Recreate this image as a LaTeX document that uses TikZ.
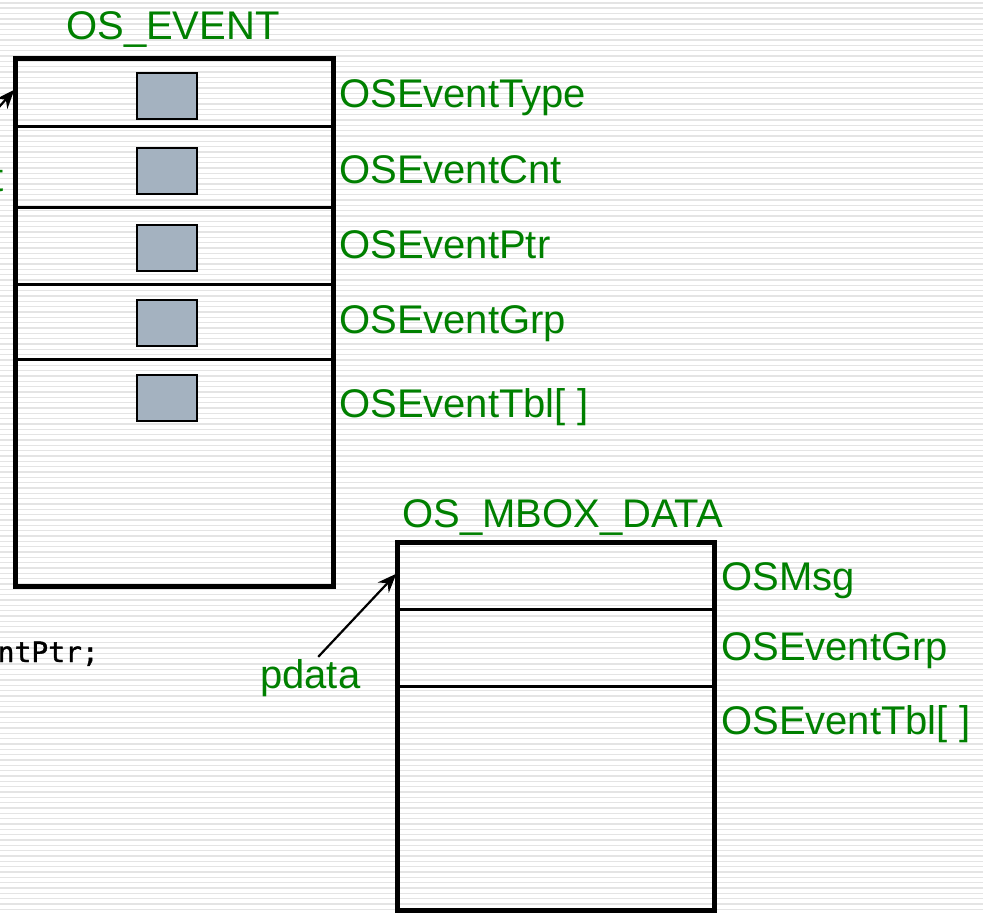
\documentclass[tikz,border=0pt]{standalone}
\usepackage{fontspec}
\setmainfont{Liberation Sans}
\newfontfamily\codefont[FakeBold=1.2]{DejaVu Sans Mono}
\usetikzlibrary{arrows.meta}
\definecolor{labelgreen}{RGB}{0,128,0}
\definecolor{slotgray}{RGB}{164,178,192}
\definecolor{stripe}{RGB}{228,228,228}
\tikzset{
  structbox/.style={draw=black, line width=5pt, inner sep=0pt, outer sep=0pt},
  divider/.style={draw=black, line width=3pt},
  slot/.style={draw=black, line width=2pt, fill=slotgray, inner sep=0pt,
    minimum width=60pt, minimum height=46pt},
  lbl/.style={text=labelgreen, inner sep=0pt, font=\fontsize{40}{48}\selectfont},
  code/.style={text=black, inner sep=0pt, font=\codefont\fontsize{28}{33}\selectfont},
  ptr/.style={draw=black, line width=2.2pt, -{Stealth[length=19pt,width=15pt]}}
}
\begin{document}
\begin{tikzpicture}[x=1pt,y=-1pt]
\useasboundingbox (0,0) rectangle (983,913);
% striped page background
\fill[white] (0,0) rectangle (983,913);
\foreach \i in {0,...,171}
  \draw[stripe, line width=1.6pt] (0,{2.7+5.333*\i}) -- (983,{2.7+5.333*\i});

% ---- OS_EVENT structure ----
\node[lbl, anchor=base west] (evtitle) at (66,39) {OS\_EVENT};
\node[structbox, minimum width=318pt, minimum height=528pt] (ev) at (174,322) {};
\foreach \y in {126,207,284,359}
  \draw[divider] (ev.west |- 0,\y) -- (ev.east |- 0,\y);
\foreach \y/\n in {96/s1,171/s2,248/s3,323/s4,398/s5}
  \node[slot] (\n) at (167,\y) {};
\node[lbl, anchor=base west] (ftype) at (339,107) {OSEventType};
\node[lbl, anchor=base west] (fcnt)  at (339,183) {OSEventCnt};
\node[lbl, anchor=base west] (fptr)  at (339,258) {OSEventPtr};
\node[lbl, anchor=base west] (fgrp)  at (339,333) {OSEventGrp};
\node[lbl, anchor=base west] (ftbl)  at (339,417) {OSEventTbl[ ]};

% pointer into OS_EVENT
\node[lbl, anchor=base east] (pev) at (4,191) {t};
\coordinate (evin) at (-8,115);
\coordinate (evtip) at (ev.west |- 0,89);
\draw[ptr, shorten >=1pt] (evin) -- (evtip);

\node[code, anchor=base east] (decl) at (99,662) {ntPtr;};

% ---- OS_MBOX_DATA structure ----
\node[lbl, anchor=base west] (mbtitle) at (402,527) {OS\_MBOX\_DATA};
\node[structbox, minimum width=317pt, minimum height=368pt] (mb) at (555.5,726) {};
\foreach \y in {609,686}
  \draw[divider] (mb.west |- 0,\y) -- (mb.east |- 0,\y);
\node[lbl, anchor=base west] (fmsg)  at (721,590) {OSMsg};
\node[lbl, anchor=base west] (fmgrp) at (721,660) {OSEventGrp};
\node[lbl, anchor=base west] (fmtbl) at (721,734) {OSEventTbl[ ]};

% pdata pointer
\node[lbl, anchor=base west] (pd) at (260,688) {pdata};
\coordinate (mbtip) at (mb.west |- 0,573);
\draw[ptr, shorten >=1pt] ([xshift=8pt,yshift=2pt]pd.north) -- (mbtip);
\end{tikzpicture}
\end{document}
